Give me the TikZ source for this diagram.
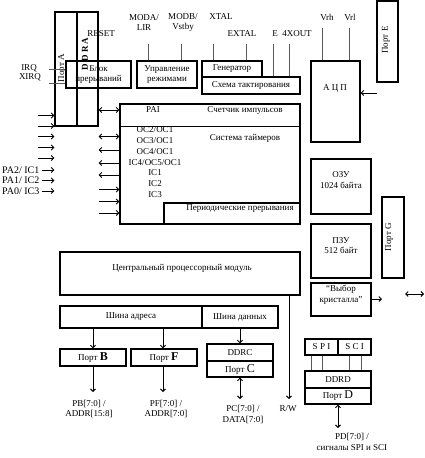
\documentclass[tikz,border=0pt]{standalone}
\usepackage{fontspec}
\setmainfont{Liberation Serif}
\usetikzlibrary{arrows.meta}

\begin{document}
\fontsize{9}{10.5}\selectfont
\begin{tikzpicture}[x=1pt, y=-1pt,
    blk/.style={draw, line width=1.3pt, inner sep=0pt, align=center},
    txt/.style={inner sep=0pt, align=center},
    wire/.style={line width=0.9pt, black!65},
    arr/.style={-{Straight Barb[length=2.5pt,width=5pt]}, line width=0.9pt},
    darr/.style={{Straight Barb[length=2.5pt,width=5pt]}-{Straight Barb[length=2.5pt,width=5pt]}, line width=0.9pt}
]
\useasboundingbox (0,0) rectangle (425,458);

% port A / DDRA
\node[blk, minimum width=22pt, minimum height=114pt] (porta) at (66,69) {};
\node[txt, rotate=90] (portatxt) at (62,68) {Порт A};
\node[blk, minimum width=21pt, minimum height=114pt] (ddra) at (87.5,69) {};
\node[txt, rotate=90, font=\bfseries] (ddratxt) at (85,54) {D D R A};

% top row
\node[blk, minimum width=65pt, minimum height=27pt] (irqblk) at (98.5,74.5) {Блок\\прерываний};
\node[blk, minimum width=60pt, minimum height=27pt] (mode) at (167,74.5) {Управление\\режимами};
\node[blk, minimum width=60pt, minimum height=16pt] (gen) at (232,69) {Генератор};
\node[blk, minimum width=98pt, minimum height=17pt] (clk) at (251,85.5) {Схема тактирования};
\node[blk, minimum width=49pt, minimum height=81pt] (adc) at (335.5,101.5) {};
\node[txt] (adctxt) at (335,88) {А Ц П};
\node[blk, minimum width=21pt, minimum height=81pt] (porte) at (387.5,41.5) {};
\node[txt, rotate=90] (portetxt) at (386,40) {Порт E};

% pin names
\node[txt] (moda) at (144,22.5) {MODA/\\LIR};
\node[txt] (modb) at (183,22.5) {MODB/\\Vstby};
\node[txt] (xtal) at (221,17) {XTAL};
\node[txt] (extal) at (242,34) {EXTAL};
\node[txt] (epin) at (275,34) {E};
\node[txt] (xout) at (297,34) {4XOUT};
\node[txt] (vrh) at (327,17) {Vrh};
\node[txt] (vrl) at (350,17) {Vrl};
\node[txt] (reset) at (101,34) {RESET};
\node[txt] (irq) at (29,68) {IRQ};
\node[txt] (xirq) at (30,77) {XIRQ};

\coordinate (modaw) at (148,44);
\coordinate (modbw) at (181,44);
\coordinate (xtalw) at (213,44);
\coordinate (extalw) at (246,44);
\coordinate (ew) at (273,44);
\coordinate (xoutw) at (289,44);
\coordinate (vrhw) at (322,28);
\coordinate (vrlw) at (349,28);
\coordinate (irqw) at (49,69);
\coordinate (xirqw) at (49,83);
\draw[wire] (modaw) -- (modaw |- mode.north);
\draw[wire] (modbw) -- (modbw |- mode.north);
\draw[wire] (xtalw) -- (xtalw |- gen.north);
\draw[wire] (extalw) -- (extalw |- gen.north);
\draw[wire] (ew) -- (ew |- clk.north);
\draw[wire] (xoutw) -- (xoutw |- clk.north);
\draw[wire] (vrhw) -- (vrhw |- adc.north);
\draw[wire] (vrlw) -- (vrlw |- adc.north);
\draw[wire] (irqw) -- (irqblk.west |- irqw);
\draw[wire] (xirqw) -- (irqblk.west |- xirqw);

% timer block
\node[blk, minimum width=180pt, minimum height=22.5pt] (cnt) at (210,115.25) {};
\node[blk, minimum width=180pt, minimum height=97.5pt] (tmr) at (210,175.25) {};
\node[blk, minimum width=136pt, minimum height=21pt] (rti) at (232,213.5) {};
\node[txt] (pai) at (153,110) {PAI};
\node[txt] (cnttxt) at (245,110) {Счетчик импульсов};
\node[txt] (tmrtxt) at (245,138) {Система таймеров};
\node[txt] (rtitxt) at (240,209) {Периодические прерывания};
\foreach \sig [count=\i from 0] in {OC2/OC1,OC3/OC1,OC4/OC1,IC4/OC5/OC1,IC1,IC2,IC3}
  \node[txt] (sig\i) at (155,130+10.7*\i) {\sig};

\draw[darr] (ddra.east |- 0,110) -- (cnt.west |- 0,110);
\draw[darr] (ddra.east |- 0,136.5) -- (tmr.west |- 0,136.5);
\foreach \yy in {150,163,175}
  \draw[arr] (tmr.west |- 0,\yy) -- (ddra.east |- 0,\yy);
\foreach \yy in {189.5,201.5,213}
  \draw[arr] (ddra.east |- 0,\yy) -- (tmr.west |- 0,\yy);

% port A inputs
\foreach \yy in {115.5,126,136.5,147.5,158}
  \draw[arr] (38,\yy) -- (porta.west |- 0,\yy);
\node[txt, anchor=west, font=\fontsize{10}{11}\selectfont] (pa2) at (2,170) {PA2/ IC1};
\node[txt, anchor=west, font=\fontsize{10}{11}\selectfont] (pa1) at (2,180.5) {PA1/ IC2};
\node[txt, anchor=west, font=\fontsize{10}{11}\selectfont] (pa0) at (2,191) {PA0/ IC3};
\foreach \pa in {pa2,pa1,pa0}
  \draw[arr] ([xshift=2pt]\pa.east) -- (porta.west |- \pa.east);

% memory, ports on the right
\node[blk, minimum width=60pt, minimum height=55pt] (ram) at (341,186.5) {};
\node[txt] (ramtxt) at (341,180) {ОЗУ\\1024 байта};
\node[blk, minimum width=60pt, minimum height=54pt] (rom) at (341,251) {};
\node[txt] (romtxt) at (341,245.5) {ПЗУ\\512 байт};
\node[blk, minimum width=22pt, minimum height=81pt] (portg) at (393,237.5) {};
\node[txt, rotate=90] (portgtxt) at (389,237) {Порт G};
\node[blk, minimum width=60pt, minimum height=33pt] (csel) at (341,299.5) {};
\node[txt] (cseltxt) at (341,294.5) {``Выбор\\кристалла''};

\coordinate (adcin) at (377,93);
\draw[arr] (adcin) -- (adc.east |- adcin);
\coordinate (cselout) at (382,299);
\draw[arr] (csel.east |- cselout) -- (cselout);
\coordinate (busl) at (405,294);
\coordinate (busr) at (424,294);
\draw[darr] (busl) -- (busr);

% CPU and buses
\node[blk, minimum width=240pt, minimum height=43pt] (cpu) at (180,273.5) {};
\node[txt] (cputxt) at (182,268) {Центральный процессорный модуль};
\node[blk, minimum width=142pt, minimum height=22pt] (abus) at (131,317) {Шина адреса};
\node[blk, minimum width=76pt, minimum height=22pt] (dbus) at (240,317) {Шина данных};

\node[blk, minimum width=66pt, minimum height=17pt] (portb) at (93,357.5) {Порт \textbf{\large B}};
\node[blk, minimum width=66pt, minimum height=17pt] (portf) at (164,357.5) {Порт \textbf{\large F}};
\node[blk, minimum width=66pt, minimum height=17pt] (ddrc) at (240,352.5) {DDRC};
\node[blk, minimum width=66pt, minimum height=16pt] (portc) at (240,369) {Порт {\large C}};
\node[blk, minimum width=33pt, minimum height=16pt] (spi) at (321.5,347) {S P I};
\node[blk, minimum width=33pt, minimum height=16pt] (sci) at (354.5,347) {S C I};
\node[blk, minimum width=66pt, minimum height=17pt] (ddrd) at (338,379.5) {DDRD};
\node[blk, minimum width=66pt, minimum height=16pt] (portd) at (338,396) {Порт {\large D}};

\foreach \xx in {311,322}
  \draw[wire] (\xx,0 |- spi.south) -- (\xx,0 |- ddrd.north);
\foreach \xx in {349,361}
  \draw[wire] (\xx,0 |- sci.south) -- (\xx,0 |- ddrd.north);

\draw[arr] (portb.north |- abus.south) -- (portb.north);
\draw[arr] (163,0 |- abus.south) -- (163,0 |- portf.north);
\draw[arr] (ddrc.north |- dbus.south) -- (ddrc.north);

% outputs
\node[txt] (pbtxt) at (89,409) {PB[7:0] /\\ADDR[15:8]};
\node[txt] (pftxt) at (166,409) {PF[7:0] /\\ADDR[7:0]};
\node[txt] (pctxt) at (243,414.5) {PC[7:0] /\\DATA[7:0]};
\node[txt] (rwtxt) at (288,409) {R/W};
\node[txt] (pdtxt) at (352,442) {PD[7:0] /\\сигналы SPI и SCI};

\coordinate (pbend) at (93,392);
\coordinate (pfend) at (163,392);
\coordinate (pcend) at (240,399);
\coordinate (rwend) at (289,399);
\coordinate (pdend) at (338,428);
\draw[arr] (portb.south) -- (pbend);
\draw[arr] (pfend |- portf.south) -- (pfend);
\draw[darr] (portc.south) -- (pcend);
\draw[arr] (rwend |- cpu.south) -- (rwend);
\draw[darr] (portd.south) -- (pdend);
\end{tikzpicture}
\end{document}
